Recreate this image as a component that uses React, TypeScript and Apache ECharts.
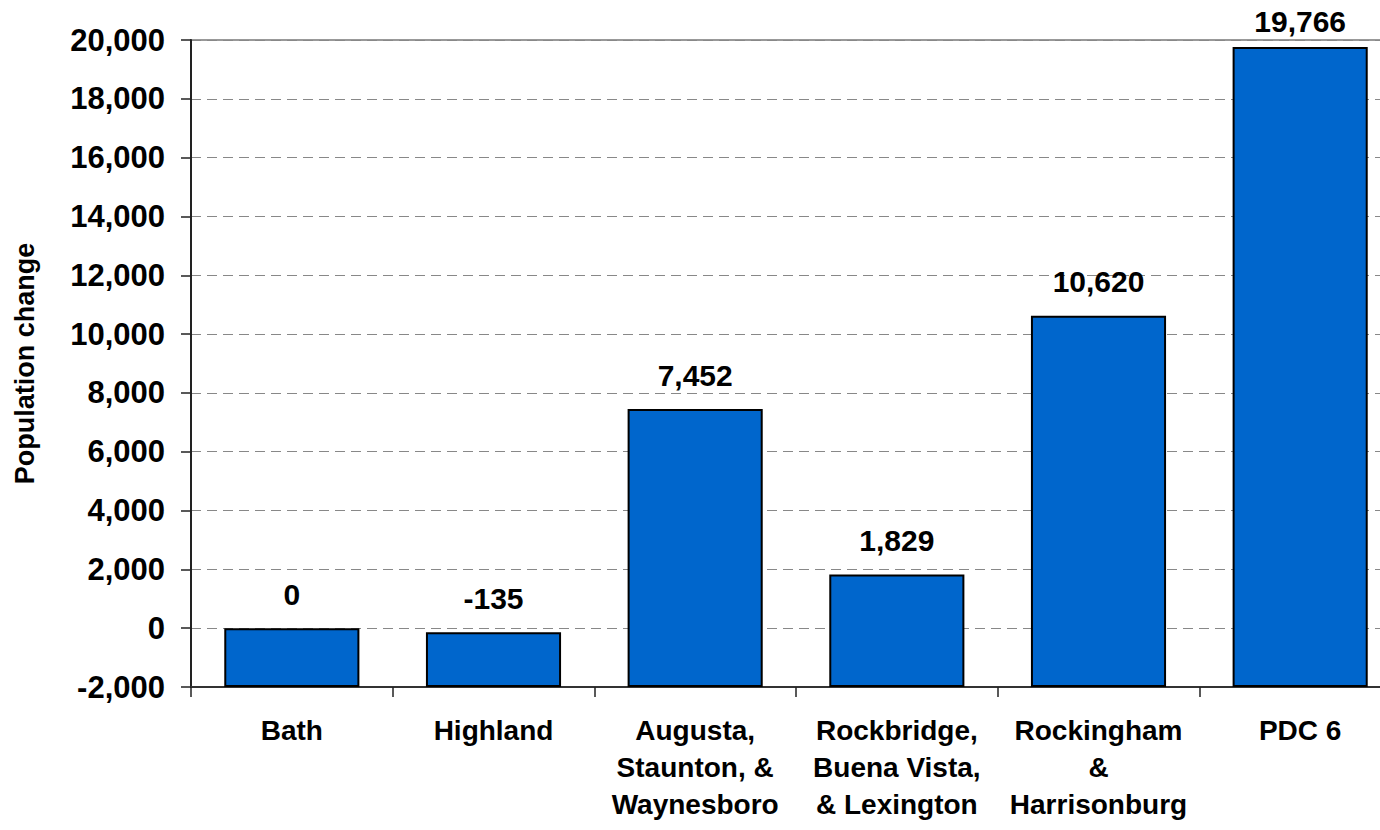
import React, { useEffect, useRef } from "react";
import * as echarts from "echarts";

const categories: string[] = [
  "Bath",
  "Highland",
  "Augusta,\nStaunton, &\nWaynesboro",
  "Rockbridge,\nBuena Vista,\n& Lexington",
  "Rockingham\n&\nHarrisonburg",
  "PDC 6",
];
const populationChange: number[] = [0, -135, 7452, 1829, 10620, 19766];
const yMin = -2000;
const yMax = 20000;
const yInterval = 2000;
const yAxisTitle = "Population change";

const FONT = "'Liberation Sans', Arial, Helvetica, sans-serif";

export default function App() {
  const ref = useRef<HTMLDivElement>(null);
  useEffect(() => {
    if (!ref.current) return;
    const chart = echarts.init(ref.current, undefined, { renderer: "svg" });
    chart.setOption({
      animation: false,
      backgroundColor: "#ffffff",
      grid: {
        left: 191,
        top: 40,
        right: 0,
        height: 647,
        show: true,
        borderColor: "#999999",
        borderWidth: 2,
        containLabel: false,
      },
      xAxis: {
        type: "category",
        data: categories,
        axisLine: { onZero: false, lineStyle: { color: "#333333", width: 2 } },
        axisTick: { show: true, length: 10, lineStyle: { color: "#222222", width: 1.5 } },
        axisLabel: {
          interval: 0,
          margin: 25,
          fontFamily: FONT,
          fontWeight: "bold",
          fontSize: 28,
          lineHeight: 37,
          color: "#000000",
        },
        splitLine: { show: false },
      },
      yAxis: {
        type: "value",
        min: yMin,
        max: yMax,
        interval: yInterval,
        startValue: yMin,
        name: yAxisTitle,
        nameLocation: "middle",
        nameGap: 153,
        nameTextStyle: {
          fontFamily: FONT,
          fontWeight: "bold",
          fontSize: 27,
          color: "#000000",
        },
        axisLine: { show: true, lineStyle: { color: "#222222", width: 2 } },
        axisTick: { show: true, inside: false, length: 10, lineStyle: { color: "#222222", width: 1.5 } },
        axisLabel: {
          margin: 26,
          fontFamily: FONT,
          fontWeight: "bold",
          fontSize: 31,
          color: "#000000",
          formatter: (v: number) => v.toLocaleString("en-US"),
        },
        splitLine: {
          show: true,
          lineStyle: { color: "#888888", width: 1, type: [10, 6] },
        },
      },
      series: [
        {
          type: "bar",
          data: populationChange,
          barWidth: "67%",
          itemStyle: { color: "#0066CC", borderColor: "#000000", borderWidth: 2 },
          label: {
            show: true,
            position: "top",
            distance: 19,
            fontFamily: FONT,
            fontWeight: "bold",
            fontSize: 30,
            color: "#000000",
            formatter: (p: any) => Number(p.value).toLocaleString("en-US"),
          },
          labelLayout: (params: any) => {
            const r = params.labelRect;
            if (r && r.y < 6) return { dy: 6 - r.y };
            return {};
          },
        },
      ],
    });
    return () => chart.dispose();
  }, []);
  return (
    <div
      style={{
        position: "fixed",
        left: 0,
        top: 0,
        width: 1380,
        height: 830,
        overflow: "hidden",
      }}
    >
      <div ref={ref} style={{ width: 1401, height: 830 }} />
    </div>
  );
}
